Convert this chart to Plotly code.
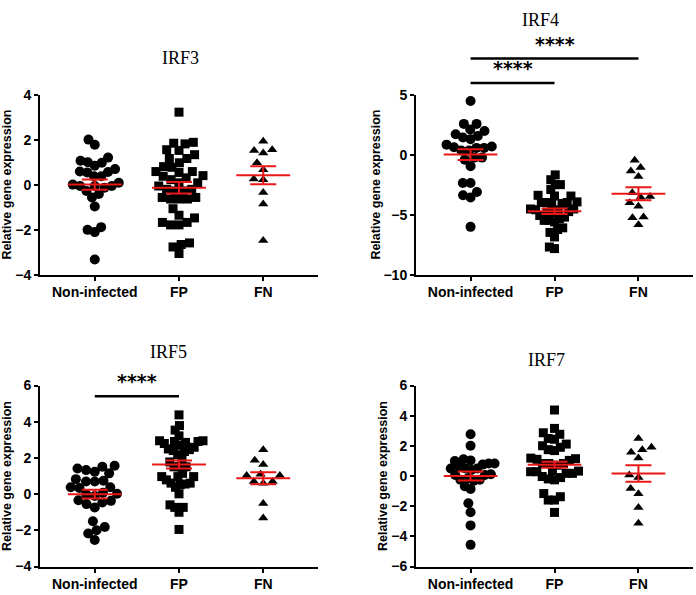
import numpy as np
import plotly.graph_objects as go

categories = ["Non-infected", "FP", "FN"]
symbols = ["circle", "square", "triangle-up"]
panel_titles = ["IRF3", "IRF4", "IRF5", "IRF7"]

# relative gene expression
irf3_noninfected = [2.0, 1.77, 0.99, 0.84, 1.2, 0.97, 1.06, 0.56, 0.37, 0.69, 0.37, 0.54, 0.58,
                    -0.06, -0.06, -0.14, 0.08, -0.06, 0.0, -0.28, -0.57, -0.42, -0.97, -2.01,
                    -2.11, -1.89, -3.33]
irf3_fp = [3.22, 1.84, 1.81, 1.88, 1.55, 1.52, 1.33, 1.16, 1.16, 0.8, 0.77, 0.97, 0.54, 0.58,
           0.58, 0.37, 0.3, 0.4, 0.08, 0.08, 0.22, -0.06, -0.21, -0.28, -0.28, -0.21, -0.57,
           -0.64, -0.64, -0.64, -0.57, -1.07, -1.36, -1.48, -1.68, -1.79, -1.79, -1.68, -2.66,
           -2.59, -2.77, -3.06]
irf3_fn = [1.93, 1.55, 1.41, 1.52, 0.97, 0.66, 0.25, 0.22, -0.35, -0.86, -2.48]

irf4_noninfected = [4.46, 2.1, 2.56, 2.56, 1.7, 1.97, 1.43, 1.29, 1.56, 0.83, 0.56, 0.34, 0.67,
                    0.34, 0.61, 0.56, -0.25, -0.42, -0.25, -0.96, -2.37, -2.37, -3.39, -3.58,
                    -3.12, -6.02]
irf4_fp = [-1.69, -2.09, -2.5, -2.5, -2.91, -3.39, -3.45, -3.45, -3.99, -4.07, -3.94, -3.99,
           -4.13, -3.99, -4.53, -4.75, -4.59, -4.59, -4.53, -5.07, -5.34, -5.48, -5.61, -5.48,
           -5.21, -6.1, -6.48, -6.24, -6.86, -7.83, -7.7, -4.8, -4.86]
irf4_fn = [-0.47, -1.07, -1.36, -1.82, -3.18, -3.5, -3.55, -4.0, -4.3, -5.2, -5.25, -5.85]

irf5_noninfected = [1.57, 1.42, 1.33, 1.51, 1.15, 1.24, 0.74, 0.7, 0.7, 0.83, 0.38, 0.34, 0.38,
                    0.02, -0.01, -0.1, 0.08, -0.34, -0.46, -0.55, -0.37, -0.73, -1.81, -1.5,
                    -1.99, -2.17, -2.53]
irf5_fp = [4.38, 3.79, 3.54, 3.22, 2.95, 2.86, 2.91, 2.95, 2.91, 2.59, 2.46, 2.36, 2.41, 2.5,
           2.18, 1.92, 2.7, 2.8, 1.51, 1.51, 1.78, 1.51, 1.15, 0.97, 0.97, 0.97, 0.79, 0.61,
           0.52, 0.61, 0.56, 0.38, 0.02, -0.59, -0.73, -1.0, -0.73, -1.95]
irf5_fn = [2.46, 1.87, 1.64, 1.03, 0.7, 0.7, 0.61, 1.03, 1.1, -0.52, -1.31]

irf7_noninfected = [2.77, 2.01, 1.11, 1.0, 0.83, 0.76, 0.83, 1.04, 0.61, 0.5, 0.4, 0.5, 0.5,
                    0.07, 0.07, 0.12, -0.25, -0.14, -0.25, -0.31, -0.68, -0.85, -1.8, -2.4,
                    -3.27, -4.56]
irf7_fp = [4.38, 2.87, 2.77, 3.16, 2.49, 2.12, 2.44, 1.91, 2.01, 1.69, 1.75, 1.11, 1.15, 1.19,
           1.04, 0.72, 0.83, 0.83, 0.83, 0.29, 0.33, 0.18, 0.18, 0.29, 0.33, -0.1, -0.25, -0.19,
           -0.03, -1.16, -1.59, -1.59, -1.37, -2.41]
irf7_fn = [2.49, 1.75, 1.91, 1.58, 1.19, 0.07, -0.1, -1.18, -0.83, -2.08, -3.12]

# mean and SEM shown by the red bars
irf3_means, irf3_sems = [0.0, -0.14, 0.42], [0.23, 0.26, 0.40]
irf4_means, irf4_sems = [0.0, -4.72, -3.26], [0.45, 0.23, 0.54]
irf5_means, irf5_sems = [0.0, 1.64, 0.88], [0.24, 0.22, 0.33]
irf7_means, irf7_sems = [0.0, 0.75, 0.17], [0.30, 0.20, 0.54]

y_ranges = [[-4, 4], [-10, 5], [-4, 6], [-6, 6]]
y_dticks = [2, 5, 2, 2]

panels = [
    ([irf3_noninfected, irf3_fp, irf3_fn], irf3_means, irf3_sems),
    ([irf4_noninfected, irf4_fp, irf4_fn], irf4_means, irf4_sems),
    ([irf5_noninfected, irf5_fp, irf5_fn], irf5_means, irf5_sems),
    ([irf7_noninfected, irf7_fp, irf7_fn], irf7_means, irf7_sems),
]

# significance brackets: panel, from group, to group, level above the data
sig_panels = [1, 1, 2]
sig_from = [0, 0, 0]
sig_to = [1, 2, 1]
sig_levels = [5.97, 8.0, 5.41]
sig_labels = ["****", "****", "****"]

W, H = 696, 595
RED = "rgb(232,24,24)"
x_range = [-0.65, 2.65]
x_doms = [[40 / W, 318 / W], [416 / W, 693 / W], [40 / W, 318 / W], [416 / W, 693 / W]]
y_doms = [[1 - 274 / H, 1 - 89 / H], [1 - 274 / H, 1 - 89 / H],
          [1 - 574 / H, 1 - 388 / H], [1 - 574 / H, 1 - 388 / H]]
title_pos = [(180, 51), (540, 12), (168, 353), (546, 362)]
ytitle_x = [7, 376, 7, 383]


def swarm(values, px_x, px_y, d=10.0, limit=24.0):
    """simple beeswarm: horizontal offsets (data units) so markers do not overlap"""
    vals = np.asarray(values, dtype=float)
    placed = []
    offs = np.zeros(len(vals))
    for idx in np.argsort(vals):
        y = vals[idx] * px_y
        cands = [0.0]
        for px, py in placed:
            dy = y - py
            if abs(dy) < d:
                dx = np.sqrt(d * d - dy * dy)
                cands += [px + dx, px - dx]
        cands.sort(key=lambda c: (round(abs(c), 3), c > 0))
        best = cands[-1]
        for c in cands:
            if all((c - px) ** 2 + (y - py) ** 2 >= d * d - 1e-6 for px, py in placed):
                best = c
                break
        placed.append((best, y))
        offs[idx] = best
    m = np.abs(offs).max()
    if m > limit:
        offs = offs * limit / m
    return offs / px_x


fig = go.Figure()
axis_font = dict(family="Liberation Sans, Arial", size=14, color="black", weight="bold")

for p, (groups, means, sems) in enumerate(panels):
    xa = "x" if p == 0 else f"x{p + 1}"
    ya = "y" if p == 0 else f"y{p + 1}"
    px_x = (x_doms[p][1] - x_doms[p][0]) * W / (x_range[1] - x_range[0])
    px_y = (y_doms[p][1] - y_doms[p][0]) * H / (y_ranges[p][1] - y_ranges[p][0])

    for g, vals in enumerate(groups):
        offs = swarm(vals, px_x, px_y, d=10.0 if g == 0 else 9.5)
        fig.add_trace(go.Scatter(
            x=g + offs, y=vals, mode="markers", xaxis=xa, yaxis=ya,
            marker=dict(symbol=symbols[g], size=10 if g == 0 else 9, color="black"),
            showlegend=False, cliponaxis=False,
        ))

    for g in range(3):
        # SEM whiskers
        fig.add_trace(go.Scatter(
            x=[g], y=[means[g]], mode="markers", xaxis=xa, yaxis=ya,
            marker=dict(size=1, opacity=0),
            error_y=dict(type="data", array=[sems[g]], width=13, thickness=2, color=RED),
            showlegend=False,
        ))
        # mean line
        fig.add_trace(go.Scatter(
            x=[g - 0.32, g + 0.32], y=[means[g], means[g]], mode="lines",
            xaxis=xa, yaxis=ya, line=dict(color=RED, width=2), showlegend=False,
        ))

    ax_common = dict(showline=True, linecolor="black", linewidth=2, ticks="outside",
                     ticklen=4, tickwidth=2, tickcolor="black", showgrid=False,
                     zeroline=False, tickfont=axis_font)
    fig.update_layout({
        ("xaxis" if p == 0 else f"xaxis{p + 1}"): dict(
            domain=x_doms[p], range=x_range, anchor=ya, tickvals=[0, 1, 2],
            ticktext=categories, **ax_common),
        ("yaxis" if p == 0 else f"yaxis{p + 1}"): dict(
            domain=y_doms[p], range=y_ranges[p], anchor=xa, dtick=y_dticks[p],
            **ax_common),
    })

    fig.add_annotation(
        text=panel_titles[p], x=title_pos[p][0] / W, y=1 - title_pos[p][1] / H,
        xref="paper", yref="paper", showarrow=False, xanchor="center", yanchor="middle",
        font=dict(family="Liberation Serif, Times New Roman", size=18, color="black"),
    )
    fig.add_annotation(
        text="Relative gene expression", x=ytitle_x[p] / W,
        y=(y_doms[p][0] + y_doms[p][1]) / 2, xref="paper", yref="paper",
        showarrow=False, textangle=-90, xanchor="center", yanchor="middle",
        font=dict(family="Liberation Sans, Arial", size=12.5, color="black", weight="bold"),
    )


def to_paper(p, val):
    lo, hi = y_ranges[p]
    return y_doms[p][0] + (val - lo) / (hi - lo) * (y_doms[p][1] - y_doms[p][0])


for p, g0, g1, lvl, lab in zip(sig_panels, sig_from, sig_to, sig_levels, sig_labels):
    xa = "x" if p == 0 else f"x{p + 1}"
    yp = to_paper(p, lvl)
    fig.add_shape(type="line", xref=xa, yref="paper", x0=g0, x1=g1, y0=yp, y1=yp,
                  line=dict(color="black", width=2.5))
    fig.add_annotation(
        text=lab, x=(g0 + g1) / 2, y=yp + 2 / H, xref=xa, yref="paper", showarrow=False,
        xanchor="center", yanchor="bottom",
        font=dict(family="DejaVu Sans", size=19, color="black", weight="bold"),
    )

fig.update_layout(
    width=W, height=H, margin=dict(l=0, r=0, t=0, b=0),
    paper_bgcolor="white", plot_bgcolor="white", showlegend=False,
)

# drop the default page margin so the figure sits at the window's top-left corner
fig.write_html("out.html", config={"displayModeBar": False},
               post_script="document.body.style.margin='0';")
